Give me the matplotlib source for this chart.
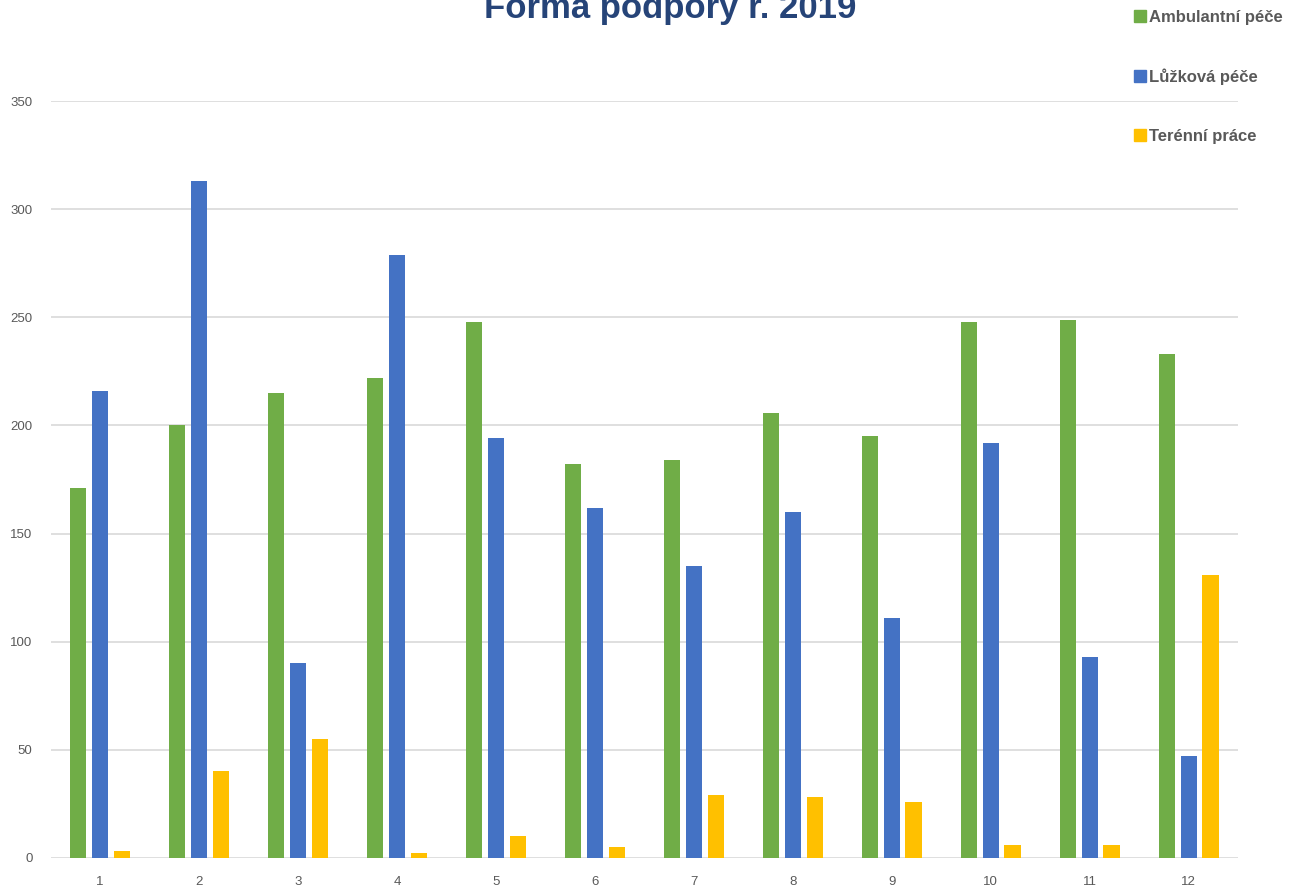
import numpy as np
import matplotlib.pyplot as plt
from matplotlib.patches import Patch

# data
categories = ['1', '2', '3', '4', '5', '6', '7', '8', '9', '10', '11', '12']
ambulantni = [171, 200, 215, 222, 248, 182, 184, 206, 195, 248, 249, 233]
luzkova = [216, 313, 90, 279, 194, 162, 135, 160, 111, 192, 93, 47]
terenni = [3, 40, 55, 2, 10, 5, 29, 28, 26, 6, 6, 131]
series_names = ['Ambulantní péče', 'Lůžková péče', 'Terénní práce']
colors = ['#70AD47', '#4472C4', '#FFC000']

plt.rcParams['font.family'] = ['Liberation Sans', 'DejaVu Sans']

fig = plt.figure(figsize=(12.98, 8.88), dpi=100)
ax = fig.add_axes([0.039, 0.034, 0.915, 0.852])

x = np.arange(len(categories))
w = 0.165
off = 0.22
for i, (vals, c) in enumerate(zip([ambulantni, luzkova, terenni], colors)):
    ax.bar(x + (i - 1) * off, vals, w, color=c, zorder=3)

ax.set_xlim(-0.5, 11.5)
ax.set_ylim(0, 350)
ax.set_yticks(range(0, 351, 50))
ax.set_xticks(x)
ax.set_xticklabels(categories)
ax.grid(axis='y', color='#d9d9d9', linewidth=1.2, zorder=0)
for s in ax.spines.values():
    s.set_visible(False)
ax.tick_params(length=0, labelsize=9.5, labelcolor='#595959')
ax.tick_params(axis='x', pad=13)
ax.tick_params(axis='y', pad=13)

# title is cut at the top edge, like in the original picture
fig.text(0.516, 0.980, 'Forma podpory r. 2019', ha='center', va='baseline',
         fontsize=25, fontweight='bold', color='#264478')

handles = [Patch(color=c) for c in colors]
leg = fig.legend(handles, series_names, loc='upper left', bbox_to_anchor=(0.862, 1.006),
                 frameon=False, handlelength=0.7, handleheight=0.7, handletextpad=0.2,
                 labelspacing=2.62, prop={'size': 12, 'weight': 'bold'})
for t in leg.get_texts():
    t.set_color('#595959')

fig.savefig('out.png', dpi=100)
